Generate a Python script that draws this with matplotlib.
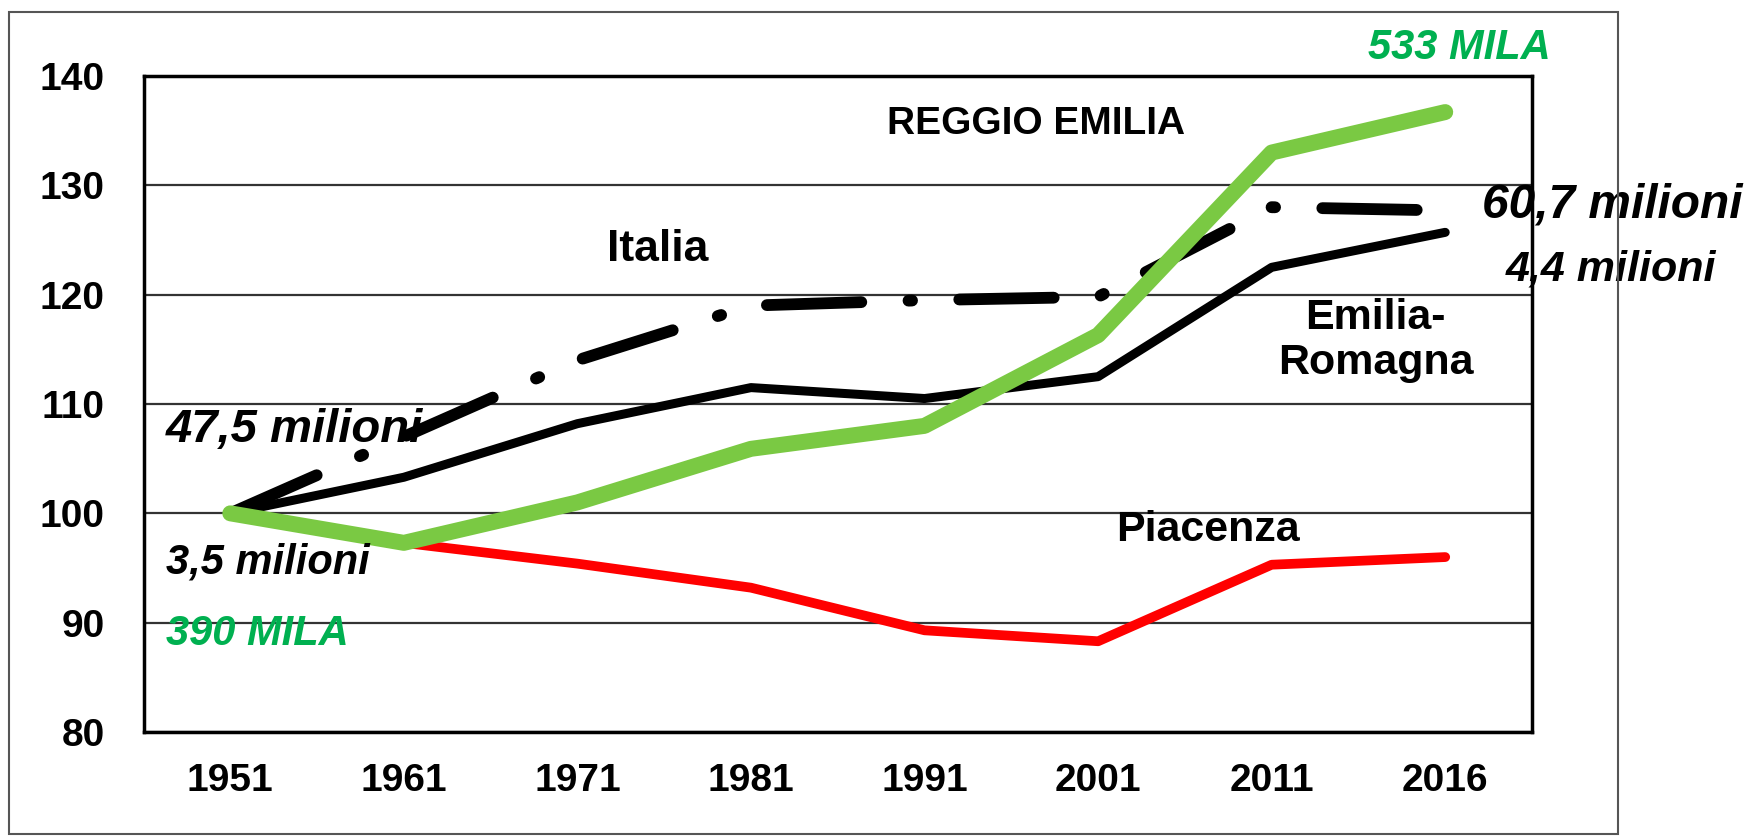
import matplotlib
matplotlib.use("Agg")
import matplotlib.pyplot as plt
from matplotlib.patches import Rectangle

# Census years (equally spaced categories)
years = ["1951", "1961", "1971", "1981", "1991", "2001", "2011", "2016"]

# Index 1951 = 100
italia = [100, 107.0, 114.0, 119.0, 119.5, 119.8, 128.0, 127.7]
emilia_romagna = [100, 103.3, 108.2, 111.5, 110.5, 112.5, 122.5, 125.7]
reggio_emilia = [100, 97.3, 101.0, 105.9, 108.0, 116.3, 133.0, 136.7]
piacenza = [100, 97.3, 95.4, 93.2, 89.3, 88.3, 95.3, 96.0]

y_ticks = [80, 90, 100, 110, 120, 130, 140]

plt.rcParams["font.family"] = ["Liberation Sans", "DejaVu Sans"]

fig = plt.figure(figsize=(17.51, 8.38), dpi=100)
ax = fig.add_axes([143.5 / 1751, 1 - 732 / 838, (1532 - 143.5) / 1751, (732 - 76) / 838])

x = list(range(len(years)))

# Lines
ax.plot(x, piacenza, color="#ff0000", lw=7, solid_joinstyle="round",
        solid_capstyle="round", zorder=3)
ax.plot(x, emilia_romagna, color="black", lw=6.5, solid_joinstyle="round",
        solid_capstyle="round", zorder=4)
ax.plot(x, italia, color="black", lw=8.5, linestyle=(0, (8, 4, 0.3, 4)),
        dash_capstyle="round", dash_joinstyle="round", zorder=4)
ax.plot(x, reggio_emilia, color="#7ac943", lw=11.5, solid_joinstyle="round",
        solid_capstyle="round", zorder=5)

# Axes
ax.set_xlim(-0.5, 7.5)
ax.set_ylim(80, 140)
ax.set_xticks(x)
ax.set_xticklabels(years)
ax.set_yticks(y_ticks)
ax.tick_params(axis="both", length=0, labelsize=28)
ax.tick_params(axis="y", pad=28)
ax.tick_params(axis="x", pad=22)
for lab in ax.get_xticklabels() + ax.get_yticklabels():
    lab.set_fontweight("bold")
ax.grid(axis="y", color="#333333", lw=1.6)
ax.set_axisbelow(True)
for side in ax.spines.values():
    side.set_linewidth(2.5)
    side.set_color("black")

# Series labels
ax.text(2.46, 124.1, "Italia", fontsize=32, fontweight="bold",
        ha="center", va="center")
ax.text(4.64, 135.6, "REGGIO EMILIA", fontsize=28, fontweight="bold",
        ha="center", va="center")
ax.text(6.6, 115.8, "Emilia-\nRomagna", fontsize=31, fontweight="bold",
        ha="center", va="center", linespacing=1.15)
ax.text(5.63, 98.5, "Piacenza", fontsize=31, fontweight="bold",
        ha="center", va="center")

# Population annotations
ax.text(-0.37, 107.6, "47,5 milioni", fontsize=34, fontweight="bold",
        style="italic", ha="left", va="center", zorder=6)
ax.text(-0.37, 95.5, "3,5 milioni", fontsize=30, fontweight="bold",
        style="italic", ha="left", va="center", zorder=6)
ax.text(-0.37, 89.0, "390 MILA", fontsize=30, fontweight="bold",
        style="italic", ha="left", va="center", color="#00b050", zorder=6)
ax.text(7.08, 142.6, "533 MILA", fontsize=30, fontweight="bold",
        style="italic", ha="center", va="center", color="#00b050",
        clip_on=False)
ax.text(7.21, 128.2, "60,7 milioni", fontsize=34.5, fontweight="bold",
        style="italic", ha="left", va="center", clip_on=False, zorder=6)
ax.text(7.35, 122.3, "4,4 milioni", fontsize=31, fontweight="bold",
        style="italic", ha="left", va="center", clip_on=False, zorder=6)

# Outer frame
fig.patches.append(Rectangle((9 / 1751, 1 - 834 / 838), (1618 - 9) / 1751,
                             (834 - 12) / 838, transform=fig.transFigure,
                             fill=False, edgecolor="#555555", lw=1.5))

fig.savefig("out.png", dpi=100)
